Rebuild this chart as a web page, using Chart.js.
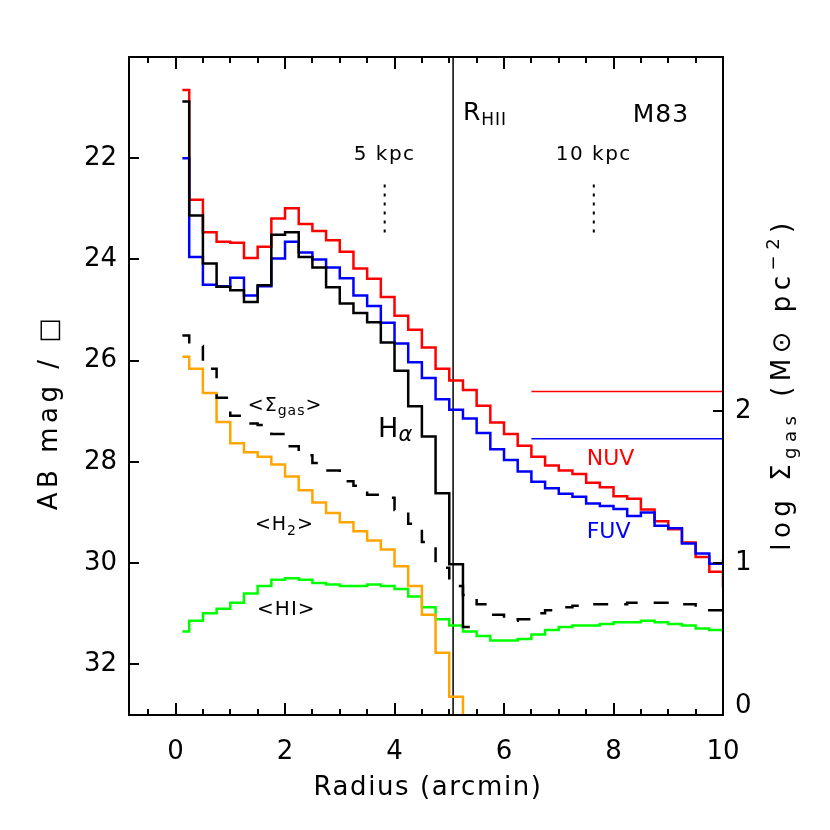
<!DOCTYPE html>
<html>
<head>
<meta charset="utf-8">
<script src="https://cdn.jsdelivr.net/npm/chart.js@4.4.1/dist/chart.umd.min.js"></script>
<style>
  html, body { margin: 0; padding: 0; background: #fff; }
</style>
</head>
<body>
<canvas id="chart" width="830" height="830"></canvas>
<script>
// radius of each annulus (arcmin), bins of 0.25'
const radius = [0.125, 0.375, 0.625, 0.875, 1.125, 1.375, 1.625, 1.875, 2.125, 2.375,
  2.625, 2.875, 3.125, 3.375, 3.625, 3.875, 4.125, 4.375, 4.625, 4.875,
  5.125, 5.375, 5.625, 5.875, 6.125, 6.375, 6.625, 6.875, 7.125, 7.375,
  7.625, 7.875, 8.125, 8.375, 8.625, 8.875, 9.125, 9.375, 9.625, 9.875, 10.125];

// surface brightness, AB mag / arcsec^2
const nuv = [20.65, 22.82, 23.46, 23.65, 23.67, 23.97, 23.75, 23.19, 22.99, 23.30,
  23.44, 23.62, 23.85, 24.18, 24.38, 24.74, 25.11, 25.39, 25.74, 26.16,
  26.39, 26.58, 26.89, 27.22, 27.45, 27.68, 27.90, 28.07, 28.17, 28.24,
  28.41, 28.50, 28.68, 28.73, 28.94, 29.17, 29.33, 29.59, 29.88, 30.17, 30.45];
const fuv = [22.00, 23.95, 24.50, 24.53, 24.36, 24.71, 24.53, 23.98, 23.65, 23.86,
  24.00, 24.16, 24.37, 24.71, 24.92, 25.25, 25.66, 26.03, 26.34, 26.76,
  26.97, 27.14, 27.43, 27.75, 27.96, 28.19, 28.39, 28.52, 28.63, 28.69,
  28.82, 28.87, 28.93, 29.07, 29.00, 29.26, 29.31, 29.61, 29.81, 30.01, 29.95];
const halpha = [20.88, 23.13, 24.08, 24.54, 24.61, 24.84, 24.51, 23.51, 23.46, 23.95,
  24.16, 24.55, 24.87, 25.06, 25.24, 25.64, 26.20, 26.90, 27.50, 28.62,
  30.02, 31.26, null, null, null, null, null, null, null, null,
  null, null, null, null, null, null, null, null, null, null, null];

// gas surface density, log Msun pc^-2
const sigmaGas = [2.50, 2.43, 2.28, 2.09, 1.97, 1.92, 1.91, 1.85, 1.77, 1.71,
  1.66, 1.61, 1.54, 1.51, 1.45, 1.43, 1.35, 1.26, 1.14, 0.97,
  0.85, 0.79, 0.73, 0.66, 0.62, 0.63, 0.67, 0.69, 0.71, 0.72,
  0.73, 0.73, 0.73, 0.74, 0.74, 0.74, 0.74, 0.73, 0.71, 0.69, 0.68];
const h2 = [2.36, 2.28, 2.12, 1.93, 1.79, 1.73, 1.70, 1.65, 1.57, 1.48,
  1.40, 1.33, 1.27, 1.21, 1.15, 1.09, 0.98, 0.85, 0.66, 0.41,
  0.12, -0.30, null, null, null, null, null, null, null, null,
  null, null, null, null, null, null, null, null, null, null, null];
const hi = [0.55, 0.62, 0.67, 0.70, 0.74, 0.80, 0.85, 0.89, 0.90, 0.89,
  0.87, 0.86, 0.85, 0.85, 0.86, 0.85, 0.83, 0.78, 0.71, 0.63,
  0.59, 0.55, 0.52, 0.49, 0.49, 0.50, 0.53, 0.56, 0.58, 0.59,
  0.59, 0.60, 0.61, 0.61, 0.62, 0.61, 0.60, 0.59, 0.57, 0.56, 0.55];

// background levels and markers
const skyRange = [6.5, 10];
const nuvSky = 26.61;
const fuvSky = 27.54;
const rHII = 5.07;
const kpcRadius = [3.82, 7.64];
const kpcLabels = ['5 kpc', '10 kpc'];
const kpcMarkRange = [22.52, 23.49];

const xTicks = [0, 2, 4, 6, 8, 10];
const magTicks = [22, 24, 26, 28, 30, 32];
const gasTicks = [0, 1, 2];

const FONT = "'DejaVu Sans', sans-serif";

function pts(ys) {
  return radius.map((r, i) => ({ x: r, y: ys[i] }));
}

function stepSet(label, ys, color, axis, dash) {
  return {
    label: label,
    data: pts(ys),
    yAxisID: axis,
    borderColor: color,
    borderWidth: 2.5,
    borderDash: dash || [],
    stepped: 'middle',
    pointRadius: 0,
    spanGaps: false,
    clip: 0
  };
}

function flatLine(label, xs, yv, color, width, axis, dash) {
  return {
    label: label,
    data: xs.map(v => ({ x: v, y: yv })),
    yAxisID: axis || 'y',
    borderColor: color,
    borderWidth: width,
    borderDash: dash || [],
    pointRadius: 0,
    clip: 0
  };
}

// draw text made of pieces (sub/superscripts), baseline at (x, y)
function richText(ctx, parts, x, y, align, angle, spacing) {
  ctx.save();
  ctx.translate(x, y);
  ctx.rotate(angle || 0);
  ctx.textBaseline = 'alphabetic';
  ctx.textAlign = 'left';
  if ('letterSpacing' in ctx) ctx.letterSpacing = (spacing || 0) + 'px';
  let total = 0;
  parts.forEach(p => {
    ctx.font = (p.style || '') + ' ' + p.size + 'px ' + FONT;
    p.w = ctx.measureText(p.t).width;
    total += p.w;
  });
  let cx = align === 'center' ? -total / 2 : (align === 'right' ? -total : 0);
  parts.forEach(p => {
    ctx.font = (p.style || '') + ' ' + p.size + 'px ' + FONT;
    ctx.fillStyle = p.color || '#000';
    ctx.fillText(p.t, cx, p.dy || 0);
    cx += p.w;
  });
  ctx.restore();
}

const decor = {
  id: 'decor',
  afterDatasetsDraw(chart) {
    const { ctx, chartArea: a, scales } = chart;
    const x = scales.x, y = scales.y, y2 = scales.y2;
    ctx.save();
    ctx.strokeStyle = '#000';
    ctx.lineWidth = 2;
    ctx.strokeRect(a.left, a.top, a.right - a.left, a.bottom - a.top);

    ctx.beginPath();
    for (let v = -0.5; v <= 10; v += 0.5) {
      const px = Math.round(x.getPixelForValue(v));
      if (px <= a.left || px >= a.right) continue;
      const len = xTicks.includes(v) ? 12 : 6;
      ctx.moveTo(px, a.bottom); ctx.lineTo(px, a.bottom - len);
      ctx.moveTo(px, a.top); ctx.lineTo(px, a.top + len);
    }
    magTicks.forEach(v => {
      const py = Math.round(y.getPixelForValue(v));
      ctx.moveTo(a.left, py); ctx.lineTo(a.left + 10, py);
    });
    gasTicks.forEach(v => {
      const py = Math.round(y2.getPixelForValue(v));
      ctx.moveTo(a.right, py); ctx.lineTo(a.right - 10, py);
    });
    ctx.stroke();

    // right axis labels
    ctx.fillStyle = '#000';
    ctx.font = '26px ' + FONT;
    ctx.textAlign = 'left';
    ctx.textBaseline = 'middle';
    gasTicks.forEach(v => {
      const py = Math.min(y2.getPixelForValue(v), a.bottom - 9);
      ctx.fillText(String(v), a.right + 12, py);
    });

    // kpc labels
    kpcRadius.forEach((r, i) => {
      richText(ctx, [{ t: kpcLabels[i], size: 20 }], x.getPixelForValue(r), y.getPixelForValue(22.03), 'center', 0, 1.5);
    });

    const X = v => x.getPixelForValue(v);
    const Y = v => y.getPixelForValue(v);
    richText(ctx, [{ t: 'R', size: 25 }, { t: 'HII', size: 17, dy: 5 }], X(5.25), Y(21.24), 'left', 0, 1);
    richText(ctx, [{ t: 'M83', size: 25 }], X(8.35), Y(21.28), 'left', 0, 1);
    richText(ctx, [{ t: '<Σ', size: 19 }, { t: 'gas', size: 14, dy: 4 }, { t: '>', size: 19 }], X(1.32), Y(26.99), 'left', 0, 1);
    richText(ctx, [{ t: 'H', size: 27 }, { t: 'α', size: 21, dy: 4, style: 'italic' }], X(3.70), Y(27.51), 'left', 0, 0);
    richText(ctx, [{ t: '<H', size: 19 }, { t: '2', size: 14, dy: 5 }, { t: '>', size: 19 }], X(1.45), Y(29.35), 'left', 0, 1);
    richText(ctx, [{ t: '<HI>', size: 20 }], X(1.49), Y(31.03), 'left', 0, 1);
    richText(ctx, [{ t: 'NUV', size: 22, color: '#ff0000' }], X(7.51), Y(28.06), 'left', 0, 0);
    richText(ctx, [{ t: 'FUV', size: 22, color: '#0000ff' }], X(7.51), Y(29.51), 'left', 0, 0);

    // axis titles
    richText(ctx, [{ t: 'Radius (arcmin)', size: 26 }], (a.left + a.right) / 2 + 2, 795, 'center', 0, 1.6);
    richText(ctx, [{ t: 'AB mag / □', size: 26 }], 57, 412, 'center', -Math.PI / 2, 4.5);
    richText(ctx, [
      { t: 'log ', size: 26 }, { t: 'Σ', size: 26 }, { t: 'gas', size: 18, dy: 6 },
      { t: ' (M', size: 26 }, { t: '⊙', size: 26 }, { t: ' pc', size: 26 },
      { t: '−2', size: 18, dy: -11 }, { t: ')', size: 26 }
    ], 790, 384, 'center', -Math.PI / 2, 5.5);
    ctx.restore();
  }
};

const datasets = [
  stepSet('Hα', halpha, '#000000', 'y'),
  stepSet('FUV', fuv, '#0000ff', 'y'),
  stepSet('NUV', nuv, '#ff0000', 'y'),
  stepSet('<Σgas>', sigmaGas, '#000000', 'y2', [15, 16]),
  stepSet('<H2>', h2, '#ffa500', 'y2'),
  stepSet('<HI>', hi, '#00ff00', 'y2'),
  flatLine('NUV sky', skyRange, nuvSky, '#ff0000', 1.5),
  flatLine('FUV sky', skyRange, fuvSky, '#0000ff', 1.5),
  {
    label: 'R_HII',
    data: [{ x: rHII, y: 20 }, { x: rHII, y: 33 }],
    yAxisID: 'y', borderColor: '#000', borderWidth: 1.5, pointRadius: 0, clip: 0
  }
];
kpcRadius.forEach((r, i) => {
  datasets.push({
    label: kpcLabels[i],
    data: kpcMarkRange.map(m => ({ x: r, y: m })),
    yAxisID: 'y', borderColor: '#000', borderWidth: 2, borderDash: [3, 6],
    pointRadius: 0, clip: 0
  });
});

new Chart(document.getElementById('chart'), {
  type: 'line',
  data: { datasets: datasets },
  options: {
    responsive: false,
    animation: false,
    layout: { padding: { top: 57, left: 0, right: 0, bottom: 0 } },
    plugins: { legend: { display: false }, tooltip: { enabled: false } },
    scales: {
      x: {
        type: 'linear', min: -0.85, max: 10,
        grid: { display: false, drawTicks: false },
        border: { display: false },
        afterBuildTicks: s => { s.ticks = xTicks.map(v => ({ value: v })); },
        afterFit: s => { s.height = 115; },
        ticks: { color: '#000', font: { family: FONT, size: 26 }, padding: 22, maxRotation: 0, autoSkip: false }
      },
      y: {
        type: 'linear', min: 20, max: 33, reverse: true, position: 'left',
        grid: { display: false, drawTicks: false },
        border: { display: false },
        afterBuildTicks: s => { s.ticks = magTicks.map(v => ({ value: v })); },
        afterFit: s => { s.width = 129; },
        ticks: { color: '#000', font: { family: FONT, size: 26 }, padding: 12 }
      },
      y2: {
        type: 'linear', min: 0, max: 13 / 3, position: 'right',
        grid: { display: false, drawTicks: false },
        border: { display: false },
        ticks: { display: false },
        afterFit: s => { s.width = 107; }
      }
    }
  },
  plugins: [decor]
});
</script>
</body>
</html>
